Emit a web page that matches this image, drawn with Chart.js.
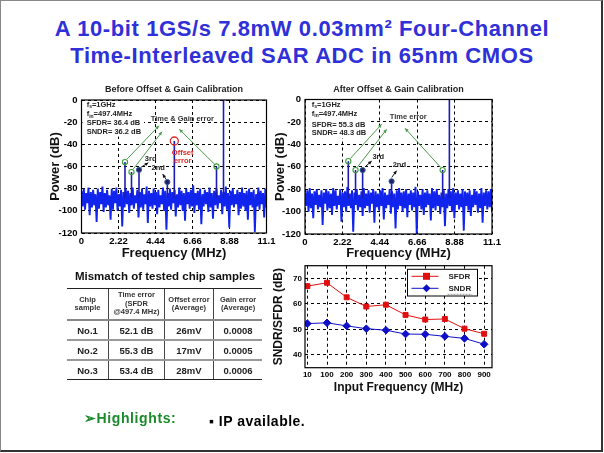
<!DOCTYPE html>
<html>
<head>
<meta charset="utf-8">
<script src="https://cdn.jsdelivr.net/npm/chart.js@4.4.1/dist/chart.umd.min.js"></script>
<style>
body{margin:0;width:604px;height:453px;position:relative;background:#fff;overflow:hidden;font-family:"Liberation Sans",Arial,sans-serif}
.frame{position:absolute;left:0;top:0;width:600px;height:449px;border:1px solid #888;border-right:2px solid #333;border-bottom:2px solid #333}
.ttl{position:absolute;left:0;width:604px;text-align:center;color:#3030d8;font-weight:bold;font-size:22px;letter-spacing:0.6px;line-height:26px;white-space:nowrap}
canvas{position:absolute}
#tblTitle{position:absolute;left:60px;top:270px;width:210px;text-align:center;font-weight:bold;font-size:11.5px;color:#111}
table{position:absolute;left:67px;top:288px;width:195px;border-collapse:collapse;table-layout:fixed}
td{text-align:center;font-weight:bold;padding:0;border-left:1px solid #444;color:#222}
td:first-child{border-left:none}
tr.hd td{font-size:7.5px;line-height:8.5px;height:30px;color:#333;border-top:1.5px solid #222;border-bottom:2px solid #888}
tr.rw td{font-size:9.5px;height:18px;border-bottom:2px solid #999}
tr.last td{border-bottom:1.5px solid #222}
#hl{position:absolute;left:84px;top:410px;font-weight:bold;font-size:14px;letter-spacing:0.6px;color:#1a8a2a}
#ip{position:absolute;left:209px;top:413px;font-weight:bold;font-size:14px;letter-spacing:0.5px;color:#000}
</style>
</head>
<body>
<div class="frame"></div>
<div class="ttl" style="top:16px">A 10-bit 1GS/s 7.8mW 0.03mm² Four-Channel</div>
<div class="ttl" style="top:43px">Time-Interleaved SAR ADC in 65nm CMOS</div>

<canvas id="fftL" width="240" height="185" style="left:40px;top:80px"></canvas>
<canvas id="fftR" width="240" height="185" style="left:265px;top:80px"></canvas>
<canvas id="perf" width="240" height="145" style="left:260px;top:255px"></canvas>

<div id="tblTitle">Mismatch of tested chip samples</div>
<table id="tbl"></table>

<div id="hl">➢Highlights:</div>
<div id="ip">▪ IP available.</div>

<script>
/* ---- spectrum axes ---- */
const fftTickVals=[0,2.22,4.44,6.66,8.88,11.1];
const fftTickLabels=['0','2.22','4.44','6.66','8.88','11.1'];
const SPUR_BASE=-88;

/* ---- before calibration ---- */
const noiseBefore=[
-82,-96,-80,-99,-84,-93,-79,-104,-83,-97,-81,-95,-85,-110,-80,-98,-83,-94,-78,-101,
-84,-97,-81,-95,-86,-108,-80,-99,-82,-93,-79,-100,-85,-96,-81,-114,-83,-97,-80,-94,
-82,-102,-84,-95,-79,-98,-86,-93,-81,-106,-83,-97,-80,-99,-85,-94,-78,-111,-82,-96,
-84,-98,-80,-95,-83,-103,-81,-97,-86,-94,-79,-100,-82,-117,-84,-96,-80,-99,-83,-93,
-81,-105,-85,-97,-79,-95,-82,-100,-84,-109,-80,-94,-83,-98,-81,-96,-77,-102,-84,-95,
-82,-99,-80,-112,-85,-96,-81,-94,-83,-101,-79,-97,-84,-107,-82,-95,-80,-98,-86,-93,
-81,-103,-83,-96,-78,-99,-84,-115,-82,-95,-80,-97,-85,-94,-81,-104,-83,-98,-79,-96,
-84,-100,-82,-108,-80,-95,-83,-97,-81,-119,-85,-96,-79,-99,-82,-94,-84,-106,-80,-97];
const spurFBefore=[2.61,3.0,3.45,5.15,5.57,8.1,8.52];
const spurDbBefore=[-56,-65,-63,-74,-37,-60,0];
const greenFBefore=[2.61,3.0,8.1], greenDbBefore=[-56,-65,-60];
const navyFBefore=[3.45,5.15], navyDbBefore=[-63,-74];
const redFBefore=[5.57], redDbBefore=[-37];

/* ---- after calibration ---- */
const noiseAfter=[
-83,-95,-81,-100,-79,-97,-84,-106,-82,-94,-80,-98,-85,-96,-81,-112,-83,-93,-80,-99,
-82,-97,-84,-103,-79,-95,-81,-98,-86,-94,-80,-109,-83,-96,-82,-100,-78,-95,-84,-97,
-81,-118,-83,-94,-80,-99,-85,-96,-82,-104,-79,-97,-84,-95,-81,-101,-83,-93,-80,-110,
-82,-96,-84,-99,-81,-95,-79,-107,-83,-97,-85,-94,-80,-102,-82,-96,-84,-115,-81,-98,
-79,-95,-83,-100,-82,-97,-80,-105,-84,-94,-81,-99,-83,-96,-78,-120,-82,-95,-85,-98,
-80,-103,-83,-96,-81,-94,-84,-108,-79,-97,-82,-99,-80,-95,-85,-102,-83,-96,-81,-113,
-84,-97,-80,-95,-82,-100,-79,-106,-83,-94,-81,-98,-84,-96,-80,-117,-82,-95,-83,-99,
-81,-104,-85,-96,-80,-94,-82,-101,-84,-97,-79,-110,-83,-95,-81,-98,-82,-96,-80,-100];
const spurFAfter=[2.57,3.0,3.42,5.14,8.17,8.57];
const spurDbAfter=[-55,-63,-63,-73,-63,0];
const greenFAfter=[2.57,3.0,8.17], greenDbAfter=[-55,-63,-63];
const navyFAfter=[3.42,5.14], navyDbAfter=[-63,-73];

/* ---- annotations (data coords) ---- */
const statsBefore=[['f','s','=1GHz'],['f','in','=497.4MHz'],['SFDR= 36.4 dB','',''],['SNDR= 36.2 dB','','']];
const statsAfter=[['f','s','=1GHz'],['f','in','=497.4MHz'],['SFDR= 55.3 dB','',''],['SNDR= 48.3 dB','','']];

/* ---- SFDR / SNDR vs input frequency ---- */
const inputFreq=[10,100,200,300,400,500,600,700,800,900];
const sfdr=[67.0,68.3,62.6,59.0,59.7,55.7,53.9,54.1,50.3,48.3];
const sndr=[52.3,52.6,51.4,50.3,49.7,48.2,48.1,47.3,46.5,44.2];

/* ---- table ---- */
const tblHead=['Chip<br>sample','Time error<br>(SFDR<br>@497.4 MHz)','Offset error<br>(Average)','Gain error<br>(Average)'];
const tblChip=['No.1','No.2','No.3'];
const tblTime=['52.1 dB','55.3 dB','53.4 dB'];
const tblOffset=['26mV','17mV','28mV'];
const tblGain=['0.0008','0.0005','0.0006'];

const FONT='"Liberation Sans", Arial, sans-serif';

function arrow(ctx,x0,y0,x1,y1,col){
  ctx.strokeStyle=col;ctx.fillStyle=col;ctx.lineWidth=1;
  ctx.beginPath();ctx.moveTo(x0,y0);ctx.lineTo(x1,y1);ctx.stroke();
  const a=Math.atan2(y1-y0,x1-x0),h=4;
  ctx.beginPath();ctx.moveTo(x1,y1);
  ctx.lineTo(x1-h*Math.cos(a-0.45),y1-h*Math.sin(a-0.45));
  ctx.lineTo(x1-h*Math.cos(a+0.45),y1-h*Math.sin(a+0.45));
  ctx.closePath();ctx.fill();
}

function notesPlugin(n){
  return {id:'notes',afterDatasetsDraw(chart){
    const {ctx,chartArea:a,scales:{x,y}}=chart;
    ctx.save();
    ctx.fillStyle='#222';ctx.textAlign='center';ctx.textBaseline='middle';
    ctx.font='bold 9px '+FONT;
    ctx.fillText(n.title,(a.left+a.right)/2,a.top-10);
    // stats block sits on a white box that hides the grid
    const sx=x.getPixelForValue(n.statX);
    ctx.font='bold 7.5px '+FONT;
    let wmax=0;
    n.stats.forEach(s=>{wmax=Math.max(wmax,ctx.measureText(s[0]+s[1]+s[2]).width);});
    const boxB=y.getPixelForValue(n.statY[n.stats.length-1])+5;
    ctx.fillStyle='#fff';ctx.fillRect(a.left+1,a.top+1,sx-a.left+wmax+2,boxB-a.top-1);
    ctx.fillStyle='#222';ctx.textAlign='left';
    n.stats.forEach((s,i)=>{
      let px=sx, py=y.getPixelForValue(n.statY[i]);
      ctx.font='bold 7.5px '+FONT;ctx.fillText(s[0],px,py);px+=ctx.measureText(s[0]).width;
      if(s[1]){ctx.font='bold 5px '+FONT;ctx.fillText(s[1],px,py+2);px+=ctx.measureText(s[1]).width;}
      if(s[2]){ctx.font='bold 7.5px '+FONT;ctx.fillText(s[2],px,py);}
    });
    n.arrows.forEach(r=>arrow(ctx,x.getPixelForValue(r[0]),y.getPixelForValue(r[1]),x.getPixelForValue(r[2]),y.getPixelForValue(r[3]),r[4]));
    ctx.textAlign='center';ctx.font='bold 7.5px '+FONT;
    n.texts.forEach(t=>{ctx.fillStyle=t[3];ctx.fillText(t[0],x.getPixelForValue(t[1]),y.getPixelForValue(t[2]));});
    ctx.strokeStyle='#000';ctx.lineWidth=1.2;
    ctx.strokeRect(a.left,a.top,a.right-a.left,a.bottom-a.top);
    ctx.restore();
  }};
}

function pts(xs,ys){return xs.map((v,i)=>({x:v,y:ys[i]}));}

function fftChart(id,o){
  const step=11.1/(o.noise.length-1);
  const noisePts=o.noise.map((v,i)=>({x:i*step,y:v}));
  const spurPts=[];
  o.spurF.forEach((f,i)=>spurPts.push({x:f,y:SPUR_BASE},{x:f,y:o.spurDb[i]},{x:f,y:null}));
  const ds=[
    {data:pts(o.greenF,o.greenDb),showLine:false,pointRadius:2.6,pointBorderWidth:1.1,pointBorderColor:'#3c9c3c',pointBackgroundColor:'rgba(255,255,255,0)',order:0},
    {data:pts(o.navyF,o.navyDb),showLine:false,pointRadius:2.6,pointBorderWidth:1,pointBorderColor:'#3a5a9a',pointBackgroundColor:'#20206a',order:0},
    {data:spurPts,borderColor:'#1c1cb4',borderWidth:1.6,pointRadius:0,spanGaps:false,order:1},
    {data:noisePts,borderColor:'#1024ee',borderWidth:1.9,borderJoinStyle:'bevel',pointRadius:0,order:2}
  ];
  if(o.redF)ds.unshift({data:pts(o.redF,o.redDb),showLine:false,pointRadius:4,pointBorderWidth:1.3,pointBorderColor:'#e02828',pointBackgroundColor:'rgba(255,255,255,0)',order:0});
  return new Chart(document.getElementById(id),{
    type:'line',
    data:{datasets:ds},
    options:{
      responsive:false,animation:false,events:[],
      layout:{padding:{left:0,right:o.padR,top:o.padT,bottom:0}},
      plugins:{legend:{display:false},tooltip:{enabled:false}},
      scales:{
        x:{type:'linear',min:0,max:11.1,
          afterBuildTicks:s=>{s.ticks=fftTickVals.map(v=>({value:v}));},
          afterFit:s=>{s.height=o.xh;},
          ticks:{color:'#000',font:{family:FONT,weight:'bold',size:9.5},padding:3,maxRotation:0,autoSkip:false,
            callback:(v,i)=>fftTickLabels[i]},
          grid:{color:'#000',lineWidth:1,drawTicks:false},
          border:{display:false,dash:[3,3]},
          title:{display:true,text:'Frequency (MHz)',color:'#111',font:{family:FONT,weight:'bold',size:13},padding:{top:0,bottom:4}}},
        y:{min:-120,max:0,
          afterBuildTicks:s=>{s.ticks=[0,-20,-40,-60,-80,-100,-120].map(v=>({value:v}));},
          afterFit:s=>{s.width=o.yw;},
          ticks:{color:'#000',font:{family:FONT,weight:'bold',size:9.5},padding:4},
          grid:{color:'#000',lineWidth:1,drawTicks:false},
          border:{display:false,dash:[3,3]},
          title:{display:true,text:'Power (dB)',color:'#111',font:{family:FONT,weight:'bold',size:13},padding:{top:o.ytp,bottom:0}}}
      }
    },
    plugins:[notesPlugin(o.notes)]
  });
}

const GREEN='#4a9a4a',BLACK='#111';

fftChart('fftL',{noise:noiseBefore,spurF:spurFBefore,spurDb:spurDbBefore,greenF:greenFBefore,greenDb:greenDbBefore,
  navyF:navyFBefore,navyDb:navyDbBefore,redF:redFBefore,redDb:redDbBefore,
  padR:13.5,padT:20,xh:32,yw:41.5,ytp:8,
  notes:{title:'Before Offset & Gain Calibration',stats:statsBefore,statX:0.31,statY:[-4.5,-12.9,-21,-28.5],
    arrows:[[2.72,-53.5,4.65,-23.2,GREEN],[3.1,-62.5,4.83,-28.6,GREEN],[7.95,-57.5,5.87,-26.4,GREEN],
      [3.57,-60.7,4.01,-56.6,BLACK],[5.07,-71.5,4.87,-66.8,BLACK]],
    texts:[['Time & Gain error',6.05,-17.4,'#333'],['Offset',6.07,-47.8,'#e02828'],['error',6.07,-54.8,'#e02828'],
      ['3rd',4.15,-53.5,'#222'],['2nd',4.6,-61.5,'#222']]}});

fftChart('fftR',{noise:noiseAfter,spurF:spurFAfter,spurDb:spurDbAfter,greenF:greenFAfter,greenDb:greenDbAfter,
  navyF:navyFAfter,navyDb:navyDbAfter,
  padR:13,padT:19.5,xh:31,yw:40,ytp:8,
  notes:{title:'After Offset & Gain Calibration',stats:statsAfter,statX:0.4,statY:[-4.9,-12.9,-22.7,-30],
    arrows:[[2.7,-52.5,4.55,-22.1,GREEN],[3.1,-60.5,4.85,-26.6,GREEN],[8.05,-60.5,5.94,-25.7,GREEN],
      [3.62,-59.3,3.96,-54.9,BLACK],[5.15,-69.5,5.44,-63.5,BLACK]],
    texts:[['Time error',6.13,-15.3,'#333'],['3rd',4.35,-51,'#222'],['2nd',5.6,-58.4,'#222']]}});

/* ---- performance chart ---- */
const perfLegend={id:'perfLegend',afterDatasetsDraw(chart){
  const {ctx,chartArea:a}=chart;
  ctx.save();
  ctx.strokeStyle='#000';ctx.lineWidth=1.2;
  ctx.strokeRect(a.left,a.top,a.right-a.left,a.bottom-a.top);
  const bx=a.right-84.5,by=a.top+3.6,bw=70,bh=26.7;
  ctx.fillStyle='#fff';ctx.fillRect(bx,by,bw,bh);
  ctx.lineWidth=1;ctx.strokeRect(bx,by,bw,bh);
  chart.data.datasets.forEach((d,i)=>{
    const ly=by+7+i*12;
    ctx.strokeStyle=d.borderColor;ctx.lineWidth=1;
    ctx.beginPath();ctx.moveTo(bx+4,ly);ctx.lineTo(bx+31,ly);ctx.stroke();
    ctx.fillStyle=d.pointBackgroundColor;
    if(d.pointStyle==='rect')ctx.fillRect(bx+19-3.5,ly-3.5,7,7);
    else{ctx.beginPath();ctx.moveTo(bx+19,ly-4);ctx.lineTo(bx+23,ly);ctx.lineTo(bx+19,ly+4);ctx.lineTo(bx+15,ly);ctx.closePath();ctx.fill();}
    ctx.fillStyle='#222';ctx.font='bold 8px '+FONT;ctx.textAlign='left';ctx.textBaseline='middle';
    ctx.fillText(d.label,bx+41,ly);
    if(i===1){
      const w=ctx.measureText(d.label).width;
      ctx.strokeStyle='#999';ctx.setLineDash([2,1]);ctx.beginPath();ctx.moveTo(bx+40,ly+6);ctx.lineTo(bx+42+w,ly+6);ctx.stroke();ctx.setLineDash([]);
    }
  });
  ctx.restore();
}};

new Chart(document.getElementById('perf'),{
  type:'line',
  data:{datasets:[
    {label:'SFDR',data:sfdr.map((v,i)=>({x:i,y:v})),borderColor:'#e01010',borderWidth:1,pointStyle:'rect',pointRadius:3.5,pointBackgroundColor:'#e01010',pointBorderColor:'#e01010'},
    {label:'SNDR',data:sndr.map((v,i)=>({x:i,y:v})),borderColor:'#1010c8',borderWidth:1,pointStyle:'rectRot',pointRadius:3.8,pointBackgroundColor:'#1010c8',pointBorderColor:'#1010c8'}
  ]},
  options:{
    responsive:false,animation:false,events:[],
    layout:{padding:{left:0,right:8,top:10.7,bottom:0}},
    plugins:{legend:{display:false},tooltip:{enabled:false}},
    scales:{
      x:{type:'linear',min:-0.12,max:9.4,
        afterBuildTicks:s=>{s.ticks=inputFreq.map((f,i)=>({value:i}));},
        afterFit:s=>{s.height=32.3;},
        ticks:{color:'#000',font:{family:FONT,weight:'bold',size:8},padding:2,maxRotation:0,autoSkip:false,
          callback:(v)=>String(inputFreq[v])},
        grid:{color:'#000',lineWidth:1,drawTicks:false},
        border:{display:false,dash:[3,3]},
        title:{display:true,text:'Input Frequency (MHz)',color:'#111',font:{family:FONT,weight:'bold',size:12},padding:{top:0,bottom:5}}},
      y:{min:35,max:75,
        afterBuildTicks:s=>{s.ticks=[40,50,60,70].map(v=>({value:v}));},
        afterFit:s=>{s.width=45;},
        ticks:{color:'#000',font:{family:FONT,weight:'bold',size:8},padding:3},
        grid:{color:'#000',lineWidth:1,drawTicks:false},
        border:{display:false,dash:[3,3]},
        title:{display:true,text:'SNDR/SFDR (dB)',color:'#111',font:{family:FONT,weight:'bold',size:12},padding:{top:11,bottom:0}}}
    }
  },
  plugins:[perfLegend]
});

/* ---- table ---- */
const tbl=document.getElementById('tbl');
let html='<colgroup><col style="width:41.6px"><col style="width:55.7px"><col style="width:49.3px"><col style="width:48.4px"></colgroup>';
html+='<tr class="hd">'+tblHead.map(h=>'<td>'+h+'</td>').join('')+'</tr>';
tblChip.forEach((c,i)=>{
  html+='<tr class="rw'+(i===tblChip.length-1?' last':'')+'"><td>'+c+'</td><td>'+tblTime[i]+'</td><td>'+tblOffset[i]+'</td><td>'+tblGain[i]+'</td></tr>';
});
tbl.innerHTML=html;
</script>
</body>
</html>
